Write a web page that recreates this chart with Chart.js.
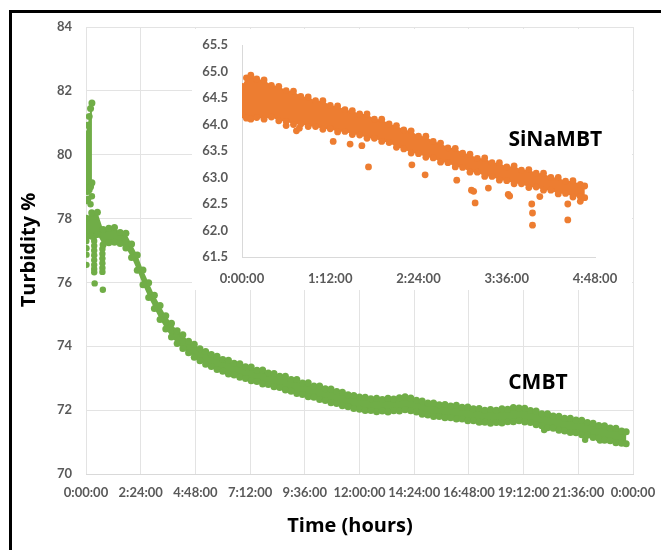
<!DOCTYPE html>
<html>
<head>
<meta charset="utf-8">
<script src="https://cdn.jsdelivr.net/npm/chart.js@4.4.1/dist/chart.umd.min.js"></script>
<style>
html,body{margin:0;padding:0;background:#fff;}
#wrap{position:relative;width:661px;height:550px;overflow:hidden;background:#fff;}
#main{position:absolute;left:0;top:0;}
#insetBox{position:absolute;left:192px;top:29px;width:440px;height:261px;background:#fff;}
#inset{position:absolute;left:0;top:0;}
#frame{position:absolute;left:9px;top:10px;width:700px;height:600px;border-left:3px solid #000;border-top:3px solid #000;}
</style>
</head>
<body>
<div id="wrap">
  <canvas id="main" width="661" height="550" style="width:661px;height:550px"></canvas>
  <div id="insetBox"><canvas id="inset" width="440" height="261" style="width:440px;height:261px"></canvas></div>
  <div id="frame"></div>
</div>
<script>
// ---------------- DATA ----------------
const mainXTickLabels = ['0:00:00','2:24:00','4:48:00','7:12:00','9:36:00','12:00:00','14:24:00','16:48:00','19:12:00','21:36:00','0:00:00'];
const insetXTickLabels = ['0:00:00','1:12:00','2:24:00','3:36:00','4:48:00'];

// dense CMBT point cloud: upper and lower edges (time in hours, turbidity %)
const cmbtTime = [0,0.25,0.5,0.75,1,1.25,1.5,1.75,2,2.25,2.5,2.75,3,3.25,3.5,3.75,4,4.25,4.5,4.75,5,5.25,5.5,5.75,6,6.25,6.5,6.75,7,7.25,7.5,7.75,8,8.25,8.5,8.75,9,9.25,9.5,9.75,10,10.25,10.5,10.75,11,11.25,11.5,11.75,12,12.25,12.5,12.75,13,13.25,13.5,13.75,14,14.25,14.5,14.75,15,15.25,15.5,15.75,16,16.25,16.5,16.75,17,17.25,17.5,17.75,18,18.25,18.5,18.75,19,19.25,19.5,19.75,20,20.25,20.5,20.75,21,21.25,21.5,21.75,22,22.25,22.5,22.75,23,23.25,23.5,23.7];
const cmbtUpper = [78.0,78.18,78.2,77.66,77.7,77.72,77.56,77.54,77.2,76.86,76.39,75.99,75.6,75.28,74.96,74.72,74.49,74.36,74.16,74.06,73.92,73.84,73.74,73.69,73.59,73.56,73.47,73.45,73.36,73.35,73.25,73.26,73.16,73.15,73.06,73.06,72.96,72.96,72.85,72.86,72.76,72.76,72.67,72.66,72.58,72.56,72.48,72.46,72.41,72.4,72.36,72.37,72.33,72.37,72.35,72.39,72.42,72.38,72.31,72.29,72.22,72.22,72.17,72.18,72.13,72.15,72.09,72.1,72.04,72.05,72.0,72.02,72.0,72.04,72.03,72.08,72.07,72.06,71.99,71.97,71.89,71.89,71.82,71.81,71.75,71.75,71.69,71.68,71.61,71.59,71.52,71.51,71.44,71.43,71.35,71.32];
const cmbtLower = [77.3,77.45,77.5,77.18,77.24,77.26,77.22,77.08,76.78,76.38,75.93,75.53,75.18,74.84,74.54,74.29,74.09,73.93,73.8,73.66,73.55,73.44,73.37,73.27,73.22,73.13,73.1,73.03,72.99,72.92,72.9,72.82,72.8,72.73,72.71,72.63,72.59,72.52,72.49,72.42,72.4,72.33,72.3,72.23,72.21,72.14,72.11,72.05,72.03,71.99,71.99,71.95,71.97,71.94,71.98,71.97,72.01,71.98,71.94,71.87,71.85,71.8,71.8,71.76,71.76,71.72,71.72,71.67,71.67,71.62,71.62,71.59,71.61,71.6,71.64,71.64,71.67,71.63,71.61,71.54,71.51,71.45,71.43,71.37,71.35,71.3,71.29,71.23,71.21,71.14,71.12,71.06,71.04,70.98,70.96,70.95];

// early vertical CMBT burst
const cmbtBurstTime = [0,0.07,0.14,0.2,0.26];
const cmbtBurstUpper = [80.65,80.92,81.2,81.45,81.62];
const cmbtBurstLower = [78.95,78.85,78.9,79.0,79.12];

// scattered single CMBT points
const cmbtSpotTime = [0.02,0.02,0.02,0.02,0.02,0.02,0.1,0.2,0.26,0.36,0.36,0.36,0.36,0.36,0.36,0.36,0.36,0.36,0.38,0.72,0.72,0.72,0.72,0.72,0.72,0.74,21.9,22.55,20.1];
const cmbtSpotValue = [78.55,78.02,77.43,77.07,76.87,76.55,78.62,78.45,78.7,77.45,77.3,77.15,77.0,76.85,76.7,76.55,76.42,76.32,75.97,77.05,76.9,76.75,76.6,76.45,76.33,75.77,71.07,71.05,71.38];

// Inset: SiNaMBT point cloud edges
const siTime = [0,0.06,0.12,0.2,0.3,0.4,0.5,0.6,0.7,0.8,0.9,1,1.1,1.2,1.3,1.4,1.5,1.6,1.7,1.8,1.9,2,2.1,2.2,2.3,2.4,2.5,2.6,2.7,2.8,2.9,3,3.1,3.2,3.3,3.4,3.5,3.6,3.7,3.8,3.9,4,4.1,4.2,4.3,4.4,4.5,4.6,4.66];
const siUpper = [64.72,64.88,64.93,64.86,64.84,64.74,64.72,64.64,64.63,64.53,64.52,64.45,64.45,64.36,64.35,64.28,64.26,64.2,64.2,64.1,64.1,64.01,63.98,63.9,63.88,63.78,63.78,63.68,63.65,63.56,63.55,63.46,63.44,63.36,63.37,63.28,63.28,63.2,63.22,63.14,63.15,63.08,63.08,63.0,63.0,62.93,62.94,62.87,62.84];
const siLower = [64.18,64.12,64.1,64.13,64.1,64.14,64.07,64.06,64.0,64.01,63.96,63.96,63.91,63.92,63.86,63.87,63.81,63.8,63.74,63.74,63.68,63.66,63.57,63.54,63.46,63.45,63.38,63.37,63.29,63.28,63.2,63.19,63.1,63.1,63.02,63.02,62.95,62.94,62.88,62.88,62.81,62.82,62.76,62.76,62.69,62.7,62.63,62.64,62.62];
const siSpotTime = [0.6,0.74,0.78,1.24,1.47,1.63,1.72,2.31,2.49,2.92,3.12,3.15,3.17,3.35,3.62,3.64,3.94,3.95,3.95,4.05,4.43,4.43,4.6];
const siSpotValue = [63.98,63.88,63.93,63.68,63.63,63.6,63.2,63.24,63.05,62.95,62.76,62.74,62.52,62.8,62.68,62.65,62.5,62.33,62.1,62.64,62.5,62.2,62.55];

// ---------------- CHARTS ----------------
const GREEN = '#70AD47';
const ORANGE = '#ED7D31';
const pts = (t, v) => t.map((x, i) => ({x: x, y: v[i]}));

function dotSet(t, v, color, r) {
  return {
    data: pts(t, v), showLine: false, borderWidth: 0, borderColor: 'rgba(0,0,0,0)',
    backgroundColor: color, fill: false,
    pointRadius: r, pointHoverRadius: r, pointBorderWidth: 0, pointBackgroundColor: color
  };
}

// fills the region between two datasets (lower, upper) using the element positions computed by Chart.js
const bandPlugin = {
  id: 'bands',
  beforeDatasetsDraw(chart, args, opts) {
    const ctx = chart.ctx;
    const area = chart.chartArea;
    ctx.save();
    ctx.beginPath();
    ctx.rect(area.left, area.top, area.right - area.left, area.bottom - area.top);
    ctx.clip();
    (opts.pairs || []).forEach(pr => {
      const a = chart.getDatasetMeta(pr[0]).data;
      const b = chart.getDatasetMeta(pr[1]).data;
      ctx.beginPath();
      a.forEach((p, i) => i ? ctx.lineTo(p.x, p.y) : ctx.moveTo(p.x, p.y));
      for (let i = b.length - 1; i >= 0; i--) ctx.lineTo(b[i].x, b[i].y);
      ctx.closePath();
      ctx.fillStyle = pr[2];
      ctx.fill();
    });
    ctx.restore();
  }
};

const textPlugin = {
  id: 'texts',
  afterDraw(chart, args, opts) {
    const ctx = chart.ctx;
    (opts.items || []).forEach(it => {
      ctx.save();
      ctx.font = it.font;
      ctx.fillStyle = it.color || '#000';
      ctx.textAlign = 'center';
      ctx.textBaseline = 'middle';
      let x, y;
      if (it.data) {
        x = chart.scales.x.getPixelForValue(it.data[0]);
        y = chart.scales.y.getPixelForValue(it.data[1]);
      } else { x = it.px[0]; y = it.px[1]; }
      ctx.translate(x, y);
      if (it.rot) ctx.rotate(it.rot);
      ctx.fillText(it.text, 0, 0);
      ctx.restore();
    });
  }
};

function fixBox(size, isX) {
  return s => {
    if (isX) s.height = size; else s.width = size;
    s.paddingTop = 0; s.paddingBottom = 0; s.paddingLeft = 0; s.paddingRight = 0;
  };
}

const tickFont = {family: 'Lato', size: 13, weight: 'bold'};
const TICK = '#595959';
const GRID = '#e3e3e3';

new Chart(document.getElementById('main'), {
  type: 'line',
  data: {
    datasets: [
      dotSet(cmbtBurstTime, cmbtBurstLower, GREEN, 3.5),
      dotSet(cmbtBurstTime, cmbtBurstUpper, GREEN, 3.5),
      dotSet(cmbtTime, cmbtLower, GREEN, 3.5),
      dotSet(cmbtTime, cmbtUpper, GREEN, 3.5),
      dotSet(cmbtSpotTime, cmbtSpotValue, GREEN, 3.2)
    ]
  },
  options: {
    responsive: false, animation: false,
    layout: {padding: {left: 0, top: 27, right: 28, bottom: 0}},
    plugins: {
      legend: {display: false}, tooltip: {enabled: false},
      bands: {pairs: [[0, 1, GREEN], [2, 3, GREEN]]},
      texts: {items: [
        {text: 'CMBT', data: [19.83, 72.85], font: 'bold 21px "Open Sans"'},
        {text: 'Time (hours)', px: [350, 526], font: 'bold 20px "Open Sans"'},
        {text: 'Turbidity %', px: [29, 250], rot: -Math.PI / 2, font: 'bold 20px "Open Sans"'}
      ]}
    },
    scales: {
      x: {
        type: 'linear', min: 0, max: 24,
        afterFit: fixBox(76, true),
        grid: {color: GRID, drawTicks: false},
        border: {display: true, color: '#d9d9d9'},
        ticks: {stepSize: 2.4, autoSkip: false, maxRotation: 0, minRotation: 0, padding: 11,
          color: TICK, font: tickFont,
          callback: (v, i) => mainXTickLabels[i]}
      },
      y: {
        min: 70, max: 84,
        afterFit: fixBox(86, false),
        grid: {color: GRID, drawTicks: false},
        border: {display: false},
        ticks: {stepSize: 2, padding: 14, color: TICK, font: tickFont}
      }
    }
  },
  plugins: [bandPlugin, textPlugin]
});

new Chart(document.getElementById('inset'), {
  type: 'line',
  data: {
    datasets: [
      dotSet(siTime, siLower, ORANGE, 3.4),
      dotSet(siTime, siUpper, ORANGE, 3.4),
      dotSet(siSpotTime, siSpotValue, ORANGE, 3.4)
    ]
  },
  options: {
    responsive: false, animation: false,
    layout: {padding: {left: 0, top: 16, right: 37, bottom: 0}},
    plugins: {
      legend: {display: false}, tooltip: {enabled: false},
      bands: {pairs: [[0, 1, ORANGE]]},
      texts: {items: [
        {text: 'SiNaMBT', data: [4.26, 63.71], font: 'bold 21px "Open Sans"'}
      ]}
    },
    scales: {
      x: {
        type: 'linear', min: 0, max: 4.8,
        afterFit: fixBox(33, true),
        grid: {display: false, drawTicks: false},
        border: {display: true, color: '#d9d9d9'},
        ticks: {stepSize: 1.2, autoSkip: false, maxRotation: 0, minRotation: 0, padding: 14,
          color: TICK, font: tickFont,
          callback: (v, i) => insetXTickLabels[i]}
      },
      y: {
        min: 61.5, max: 65.5,
        afterFit: fixBox(50, false),
        grid: {display: false, drawTicks: false},
        border: {display: true, color: '#d9d9d9'},
        ticks: {stepSize: 0.5, padding: 14, color: TICK, font: tickFont}
      }
    }
  },
  plugins: [bandPlugin, textPlugin]
});
</script>
</body>
</html>
